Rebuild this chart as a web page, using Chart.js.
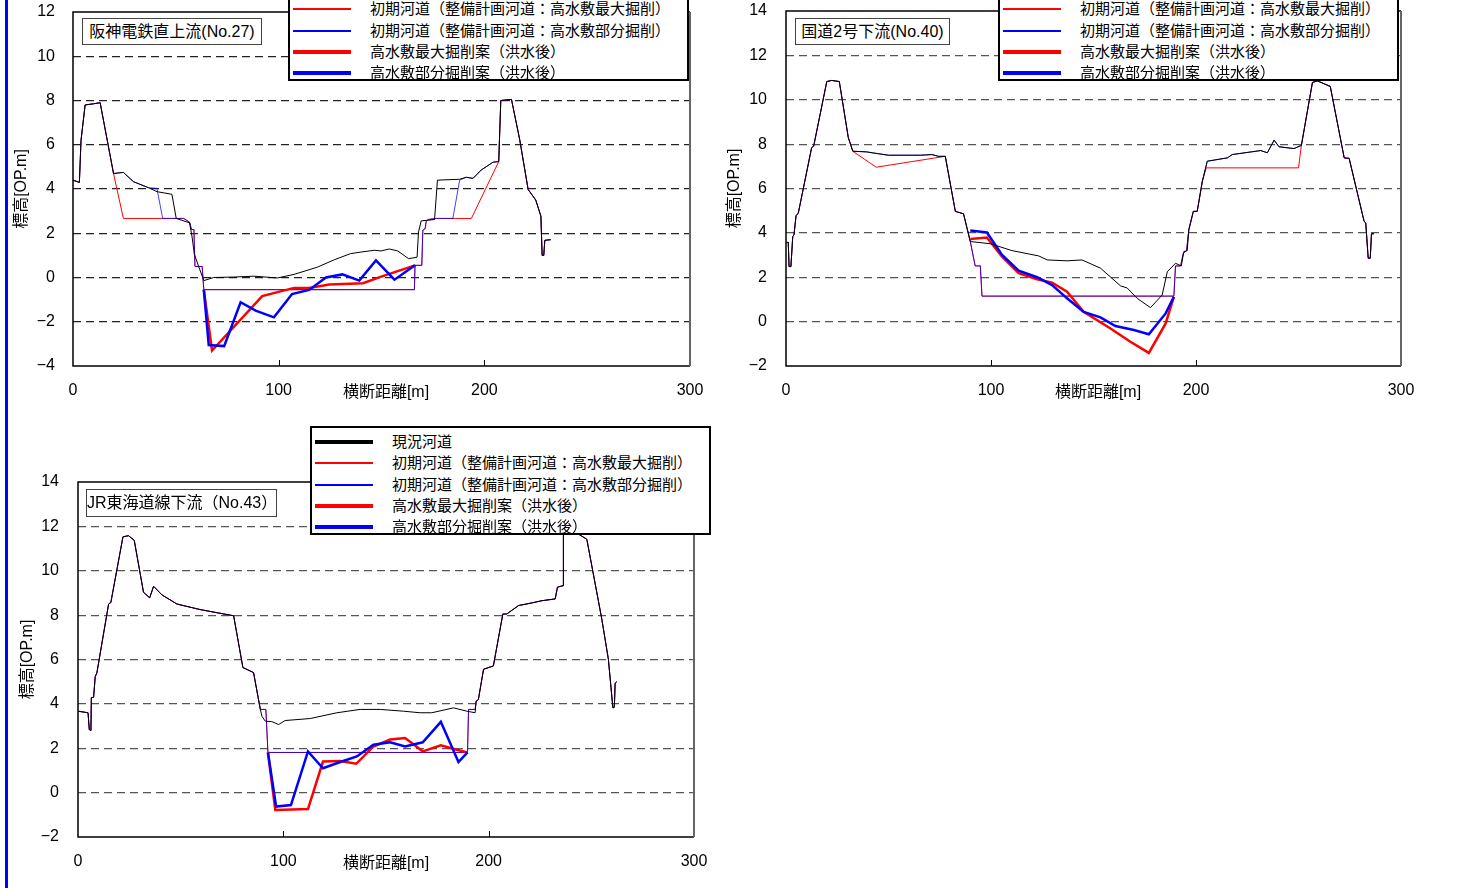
<!DOCTYPE html>
<html>
<head>
<meta charset="utf-8">
<script src="https://cdn.jsdelivr.net/npm/chart.js@4"></script>
<style>
  body { margin: 0; background: #fff; width: 1477px; height: 888px; overflow: hidden; position: relative;
         font-family: 'Liberation Sans', 'Noto Sans CJK JP', sans-serif; }
  canvas { position: absolute; }
  .bar { position: absolute; left: 5px; top: 0; width: 3px; height: 888px; background: #0000ff; }
  .legend { position: absolute; width: 401px; height: 109px; border: 2px solid #000; background: #fff;
            box-sizing: border-box; z-index: 5; }
  .legend .row { position: absolute; left: 0; height: 20px; width: 100%; }
  .legend .smp { position: absolute; left: 3px; width: 58px; }
  .legend .txt { position: absolute; left: 80px; top: 0; font-size: 15px; line-height: 20px; white-space: nowrap; color: #000; }
  .ttl { position: absolute; border: 1px solid #444; background: #fff; font-size: 16px; line-height: 25px;
         text-align: center; white-space: nowrap; z-index: 4; box-sizing: border-box; }
  .xt { position: absolute; font-size: 16px; white-space: nowrap; transform: translate(-50%, -50%); }
</style>
</head>
<body>
<div class="bar"></div>

<canvas id="c27" width="720" height="420" style="left:0px;top:0px;"></canvas>
<canvas id="c40" width="720" height="420" style="left:713px;top:0px;"></canvas>
<canvas id="c43" width="720" height="468" style="left:0px;top:420px;"></canvas>

<div class="ttl" style="left:82px;top:18px;width:180px;height:27px;">阪神電鉄直上流(No.27)</div>
<div class="ttl" style="left:795px;top:18px;width:155px;height:27px;">国道2号下流(No.40)</div>
<div class="ttl" style="left:86px;top:489px;width:191px;height:28px;line-height:26px;">JR東海道線下流（No.43）</div>

<div class="xt" style="left:386px;top:390px;">横断距離[m]</div>
<div class="xt" style="left:1098px;top:390px;">横断距離[m]</div>
<div class="xt" style="left:386px;top:861px;">横断距離[m]</div>

<div class="legend" id="lg27" style="left:288px;top:-28px;"></div>
<div class="legend" id="lg40" style="left:998px;top:-28px;"></div>
<div class="legend" id="lg43" style="left:310px;top:426px;"></div>

<script>
// 凡例
const seriesNames = ['現況河道', '初期河道（整備計画河道：高水敷最大掘削）', '初期河道（整備計画河道：高水敷部分掘削）', '高水敷最大掘削案（洪水後）', '高水敷部分掘削案（洪水後）'];
const seriesColors = ['#000000', '#ff0000', '#0000ff', '#ff0000', '#0000ff'];

const xTicks = [0, 100, 200, 300];
const yTicks27 = [-4, -2, 0, 2, 4, 6, 8, 10, 12];
const yTicks40 = [-2, 0, 2, 4, 6, 8, 10, 12, 14];
const yTicks43 = [-2, 0, 2, 4, 6, 8, 10, 12, 14];

// No.27 阪神電鉄直上流 [横断距離, 標高]
const no27Current = [[0,4.4],[3.1,4.3],[3.9,6.2],[5.9,7.8],[9.9,7.85],[13.2,7.9],[19.7,4.7],[24.5,4.75],[29.4,4.33],[36.7,4.06],[40.8,3.88],[48.1,3.76],[50.2,2.67],[56.7,2.47],[57.9,1.83],[59,1.05],[61.1,0.5],[63.6,-0.14],[68.4,0],[78,0.02],[88,0.06],[99.4,-0.02],[107.5,0.14],[118.9,0.47],[127,0.8],[135,1.08],[140,1.15],[146.5,1.23],[149.8,1.2],[153.8,1.29],[157.9,1.2],[163.2,0.85],[167.3,0.92],[168,2.06],[169.3,2.56],[175.8,2.62],[177.2,4.4],[188,4.44],[191.2,4.53],[194.5,4.48],[198.5,4.86],[204.2,5.21],[207,5.24],[208,8.0],[213.2,8.05],[217.2,6.23],[221.3,3.98],[225,3.5],[227.5,2.77],[228.1,1.0],[228.9,1.0],[229.4,1.68],[232.3,1.71]];
const no27InitMax = [[0,4.4],[3.1,4.3],[3.9,6.2],[5.9,7.8],[9.9,7.85],[13.2,7.9],[19.7,4.7],[24.5,2.67],[53.8,2.67],[56.7,2.5],[57.6,2.17],[58.8,2.17],[59.3,0.5],[62.8,0.5],[63.6,-0.55],[166,-0.55],[166.3,0.55],[169.6,0.55],[170.1,2.14],[171.2,2.2],[171.7,2.52],[172.6,2.62],[176.6,2.67],[193.7,2.67],[207,5.24],[208,8.0],[213.2,8.05],[217.2,6.23],[221.3,3.98],[225,3.5],[227.5,2.77],[228.1,1.0],[228.9,1.0],[229.4,1.68],[232.3,1.71]];
const no27InitPart = [[0,4.4],[3.1,4.3],[3.9,6.2],[5.9,7.8],[9.9,7.85],[13.2,7.9],[19.7,4.7],[24.5,4.75],[29.4,4.33],[36.7,4.06],[40.8,4.03],[43.6,2.67],[53.8,2.67],[56.7,2.5],[57.6,2.17],[58.8,2.17],[59.3,0.5],[62.8,0.5],[63.6,-0.55],[166,-0.55],[166.3,0.55],[169.6,0.55],[170.1,2.14],[171.2,2.2],[171.7,2.52],[172.6,2.62],[176.6,2.67],[184.7,2.67],[188,4.4],[191.2,4.53],[194.5,4.48],[198.5,4.86],[204.2,5.21],[207,5.24],[208,8.0],[213.2,8.05],[217.2,6.23],[221.3,3.98],[225,3.5],[227.5,2.77],[228.1,1.0],[228.9,1.0],[229.4,1.68],[232.3,1.71]];
const no27AfterMax = [[63.6,-0.55],[67.6,-3.3],[92,-0.84],[107.5,-0.47],[114.8,-0.47],[124.6,-0.32],[141,-0.26],[149.5,0.03],[166.3,0.55]];
const no27AfterPart = [[63.6,-0.55],[66,-3.05],[73.5,-3.1],[81.5,-1.12],[88.8,-1.5],[97.7,-1.8],[106.5,-0.75],[114.8,-0.56],[123,0],[131,0.14],[139.2,-0.14],[147.3,0.77],[156.3,-0.1],[166.3,0.55]];

// No.40 国道2号下流
const no40Current = [[0.3,3.57],[1.1,3.57],[1.5,2.48],[2.4,2.48],[3.3,3.84],[3.9,3.91],[4.9,4.77],[6,4.89],[12.5,7.84],[13.5,7.91],[19.9,10.82],[22.3,10.87],[26,10.82],[30.4,8.29],[32.6,7.68],[39.4,7.65],[42.7,7.6],[50,7.5],[65.5,7.5],[71.2,7.53],[74.4,7.45],[77.7,7.45],[82.6,4.97],[86.6,4.86],[89.9,3.61],[99.7,3.51],[110.3,3.2],[123.3,2.96],[127.4,2.78],[137.1,2.74],[144.4,2.78],[153.4,2.41],[163.2,1.61],[166.4,1.52],[171.3,1.05],[177.8,0.63],[183.5,1.2],[186,2.25],[190,2.63],[192.8,2.51],[194.1,3.16],[195.7,3.2],[196.5,4.14],[198.7,4.97],[200.6,4.97],[203.1,6.33],[205.5,7.23],[215.3,7.38],[217.7,7.53],[231.6,7.71],[234.8,7.61],[238.1,8.18],[240.5,7.88],[247.8,7.8],[251.4,7.94],[256.8,10.78],[259.3,10.85],[265.5,10.6],[272.3,7.38],[274.7,7.36],[282,4.52],[282.8,4.45],[284,2.86],[285,2.86],[285.6,3.96],[286.8,3.96]];
const no40InitMax = [[0.3,3.57],[1.1,3.57],[1.5,2.48],[2.4,2.48],[3.3,3.84],[3.9,3.91],[4.9,4.77],[6,4.89],[12.5,7.84],[13.5,7.91],[19.9,10.82],[22.3,10.87],[26,10.82],[30.4,8.29],[32.6,7.68],[44,6.96],[77.7,7.45],[82.6,4.97],[86.6,4.86],[89.9,3.61],[92.3,2.51],[94.8,2.51],[95.6,1.15],[189.2,1.15],[190,2.51],[192.5,2.51],[193.8,3.08],[195.4,3.2],[196.5,4.14],[198.7,4.97],[200.6,4.97],[203.1,6.33],[205,6.93],[250,6.93],[251.4,7.94],[256.8,10.78],[259.3,10.85],[265.5,10.6],[272.3,7.38],[274.7,7.36],[282,4.52],[282.8,4.45],[284,2.86],[285,2.86],[285.6,3.96],[286.8,3.96]];
const no40InitPart = [[0.3,3.57],[1.1,3.57],[1.5,2.48],[2.4,2.48],[3.3,3.84],[3.9,3.91],[4.9,4.77],[6,4.89],[12.5,7.84],[13.5,7.91],[19.9,10.82],[22.3,10.87],[26,10.82],[30.4,8.29],[32.6,7.68],[39.4,7.65],[42.7,7.6],[50,7.5],[65.5,7.5],[71.2,7.53],[74.4,7.45],[77.7,7.45],[82.6,4.97],[86.6,4.86],[89.9,3.61],[92.3,2.51],[94.8,2.51],[95.6,1.15],[189.2,1.15],[190,2.51],[192.5,2.51],[193.8,3.08],[195.4,3.2],[196.5,4.14],[198.7,4.97],[200.6,4.97],[203.1,6.33],[205.5,7.23],[215.3,7.38],[217.7,7.53],[231.6,7.71],[234.8,7.61],[238.1,8.18],[240.5,7.88],[247.8,7.8],[251.4,7.94],[256.8,10.78],[259.3,10.85],[265.5,10.6],[272.3,7.38],[274.7,7.36],[282,4.52],[282.8,4.45],[284,2.86],[285,2.86],[285.6,3.96],[286.8,3.96]];
const no40AfterMax = [[89.9,3.72],[98,3.79],[105.4,2.93],[113.5,2.18],[122.5,1.91],[129.8,1.76],[137.1,1.35],[145.2,0.44],[158.3,-0.31],[168,-0.91],[177,-1.41],[185.2,-0.08],[189.2,1.12]];
const no40AfterPart = [[89.9,4.11],[98,4.02],[105.4,3.01],[113.5,2.3],[122.5,2.0],[129.8,1.65],[137.1,1.05],[145.2,0.44],[153.4,0.19],[160.7,-0.2],[169.7,-0.38],[177,-0.57],[185.2,0.37],[189.2,1.12]];

// No.43 JR東海道線下流
const no43Current = [[0,3.67],[4.9,3.6],[5.5,2.84],[6.3,2.8],[6.5,4.28],[7.6,4.3],[8.4,5.23],[9.2,5.4],[14.9,8.5],[16,8.57],[21.9,11.53],[24.6,11.58],[27.4,11.37],[31.9,9.03],[34.9,8.78],[36.8,9.3],[40.9,8.91],[48.2,8.5],[59.5,8.25],[75.8,7.97],[80.3,5.64],[85.5,5.41],[88.8,3.75],[89.6,3.44],[91.2,3.22],[94.4,3.2],[97.7,3.07],[100.9,3.25],[113.1,3.34],[126.1,3.6],[137.4,3.75],[147.2,3.75],[158.5,3.67],[166.6,3.6],[172.3,3.6],[182.9,3.82],[189.4,3.67],[193.4,3.6],[193.9,4.12],[195,4.2],[197.5,5.56],[202.3,5.71],[206.9,8.05],[208.8,8.05],[214.5,8.43],[221,8.55],[225.9,8.65],[232.4,8.73],[233.5,9.26],[236.4,9.33],[236.4,11.7],[242.9,11.7],[247.8,11.42],[255.1,7.82],[258.3,6.01],[260.5,3.82],[261.2,3.85],[261.6,4.93],[262.4,5.0]];
const no43InitMax = [[0,3.67],[4.9,3.6],[5.5,2.84],[6.3,2.8],[6.5,4.28],[7.6,4.3],[8.4,5.23],[9.2,5.4],[14.9,8.5],[16,8.57],[21.9,11.53],[24.6,11.58],[27.4,11.37],[31.9,9.03],[34.9,8.78],[36.8,9.3],[40.9,8.91],[48.2,8.5],[59.5,8.25],[75.8,7.97],[80.3,5.64],[85.5,5.41],[88.8,3.75],[91.5,3.75],[92.5,1.81],[189.7,1.81],[190.2,3.75],[193.4,3.75],[193.9,4.12],[195,4.2],[197.5,5.56],[202.3,5.71],[206.9,8.05],[208.8,8.05],[214.5,8.43],[221,8.55],[225.9,8.65],[232.4,8.73],[233.5,9.26],[236.4,9.33],[236.4,11.7],[242.9,11.7],[247.8,11.42],[255.1,7.82],[258.3,6.01],[260.5,3.82],[261.2,3.85],[261.6,4.93],[262.4,5.0]];
const no43InitPart = [[0,3.67],[4.9,3.6],[5.5,2.84],[6.3,2.8],[6.5,4.28],[7.6,4.3],[8.4,5.23],[9.2,5.4],[14.9,8.5],[16,8.57],[21.9,11.53],[24.6,11.58],[27.4,11.37],[31.9,9.03],[34.9,8.78],[36.8,9.3],[40.9,8.91],[48.2,8.5],[59.5,8.25],[75.8,7.97],[80.3,5.64],[85.5,5.41],[88.8,3.75],[91.5,3.75],[92.5,1.81],[189.7,1.81],[190.2,3.75],[193.4,3.75],[193.9,4.12],[195,4.2],[197.5,5.56],[202.3,5.71],[206.9,8.05],[208.8,8.05],[214.5,8.43],[221,8.55],[225.9,8.65],[232.4,8.73],[233.5,9.26],[236.4,9.33],[236.4,11.7],[242.9,11.7],[247.8,11.42],[255.1,7.82],[258.3,6.01],[260.5,3.82],[261.2,3.85],[261.6,4.93],[262.4,5.0]];
const no43AfterMax = [[92.5,1.81],[96.1,-0.78],[112,-0.74],[119.3,1.4],[127.7,1.42],[135.5,1.3],[143.9,2.08],[152,2.39],[159.3,2.46],[167.9,1.86],[176.7,2.13],[184.5,1.93],[189.7,1.81]];
const no43AfterPart = [[92.5,1.81],[96.5,-0.63],[103.7,-0.56],[112,1.86],[119.3,1.1],[127.7,1.38],[135.8,1.63],[143.9,2.16],[152,2.27],[159.3,2.08],[167.9,2.27],[176.7,3.19],[185.3,1.38],[189.7,1.81]];

const FONT = "'Liberation Sans', 'Noto Sans CJK JP', sans-serif";
const CLEAR = 'rgba(0,0,0,0)';

// 枠線と x 軸の内向き目盛
const framePlugin = {
  id: 'frame',
  afterDraw(chart) {
    const { ctx, chartArea: a, scales: { x } } = chart;
    ctx.save();
    ctx.strokeStyle = '#000';
    ctx.lineWidth = 1.5;
    ctx.beginPath();
    ctx.moveTo(a.right, a.top);
    ctx.lineTo(a.left, a.top);
    ctx.lineTo(a.left, a.bottom);
    ctx.lineTo(a.right, a.bottom);
    ctx.stroke();
    ctx.strokeStyle = '#666';
    ctx.lineWidth = 2;
    ctx.beginPath();
    ctx.moveTo(a.right, a.top);
    ctx.lineTo(a.right, a.bottom);
    ctx.stroke();
    ctx.strokeStyle = '#000';
    ctx.lineWidth = 1;
    x.ticks.forEach(t => {
      if (t.value > x.min && t.value < x.max) {
        const px = Math.round(x.getPixelForValue(t.value)) + 0.5;
        ctx.beginPath();
        ctx.moveTo(px, a.bottom);
        ctx.lineTo(px, a.bottom - 6);
        ctx.stroke();
      }
    });
    ctx.restore();
  }
};

const toXY = arr => arr.map(p => ({ x: p[0], y: p[1] }));

function drawPanel(id, p) {
  // index 0 が最前面
  const datasets = [
    { data: toXY(p.current), borderColor: '#000000', borderWidth: 1 },
    { data: toXY(p.afterPart), borderColor: '#0000ff', borderWidth: 2.5 },
    { data: toXY(p.afterMax), borderColor: '#ff0000', borderWidth: 2.5 },
    { data: toXY(p.initPart), borderColor: 'rgba(0,0,255,0.75)', borderWidth: 1 },
    { data: toXY(p.initMax), borderColor: '#ff0000', borderWidth: 1 }
  ].map(d => Object.assign(d, { showLine: true, pointRadius: 0, tension: 0, fill: false }));

  const yMin = p.yTicks[0], yMax = p.yTicks[p.yTicks.length - 1];

  new Chart(document.getElementById(id), {
    type: 'scatter',
    data: { datasets },
    options: {
      responsive: false,
      animation: false,
      layout: { padding: p.pad },
      plugins: { legend: { display: false }, tooltip: { enabled: false } },
      scales: {
        x: {
          type: 'linear', min: 0, max: 300,
          afterBuildTicks: s => { s.ticks = xTicks.map(v => ({ value: v })); },
          afterFit: s => { s.height = 40; },
          grid: { display: false, drawTicks: true, tickLength: 15, tickColor: CLEAR },
          border: { display: false },
          ticks: { padding: 0, color: '#000', font: { family: FONT, size: 16 }, maxRotation: 0 }
        },
        y: {
          type: 'linear', min: yMin, max: yMax,
          afterBuildTicks: s => { s.ticks = p.yTicks.map(v => ({ value: v })); },
          afterFit: s => { s.width = p.yWidth; },
          grid: {
            drawTicks: true,
            tickLength: p.tickPad,
            tickColor: CLEAR,
            lineWidth: 1.2,
            color: c => (c.tick && (c.tick.value === yMin || c.tick.value === yMax)) ? CLEAR : p.gridColor
          },
          border: { display: false, dash: [8, 5] },
          ticks: {
            padding: 0, color: '#000', font: { family: FONT, size: 16 },
            callback: v => v < 0 ? '\u2212' + Math.abs(v) : String(v)
          },
          title: {
            display: true, text: '標高[OP.m]', color: '#000',
            font: { family: FONT, size: 16 }, padding: { top: p.titlePad, bottom: 0 }
          }
        }
      }
    },
    plugins: [framePlugin]
  });
}

function buildLegend(id) {
  const box = document.getElementById(id);
  const rowsY = [14, 35, 57, 78, 99];
  seriesNames.forEach((name, i) => {
    const row = document.createElement('div');
    row.className = 'row';
    row.style.top = (rowsY[i] - 10) + 'px';
    const smp = document.createElement('div');
    smp.className = 'smp';
    const h = (i === 0 || i >= 3) ? 4 : 1.5;
    smp.style.height = h + 'px';
    smp.style.top = (10 - h / 2) + 'px';
    smp.style.background = seriesColors[i];
    const txt = document.createElement('div');
    txt.className = 'txt';
    txt.textContent = name;
    row.appendChild(smp);
    row.appendChild(txt);
    box.appendChild(row);
  });
}

drawPanel('c27', {
  current: no27Current, initMax: no27InitMax, initPart: no27InitPart, afterMax: no27AfterMax, afterPart: no27AfterPart,
  yTicks: yTicks27, yWidth: 73, tickPad: 18, titlePad: 12, gridColor: '#222',
  pad: { left: 0, top: 12, right: 30, bottom: 14 }
});
drawPanel('c40', {
  current: no40Current, initMax: no40InitMax, initPart: no40InitPart, afterMax: no40AfterMax, afterPart: no40AfterPart,
  yTicks: yTicks40, yWidth: 73, tickPad: 19, titlePad: 12, gridColor: '#555',
  pad: { left: 0, top: 11, right: 32, bottom: 14 }
});
drawPanel('c43', {
  current: no43Current, initMax: no43InitMax, initPart: no43InitPart, afterMax: no43AfterMax, afterPart: no43AfterPart,
  yTicks: yTicks43, yWidth: 78, tickPad: 19, titlePad: 18, gridColor: '#555',
  pad: { left: 0, top: 62, right: 26, bottom: 11 }
});

buildLegend('lg27');
buildLegend('lg40');
buildLegend('lg43');
</script>
</body>
</html>
